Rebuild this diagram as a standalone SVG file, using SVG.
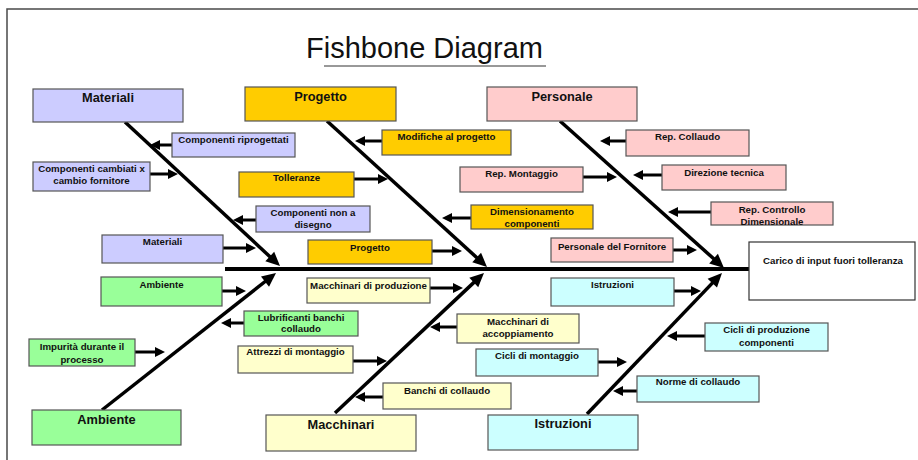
<svg xmlns="http://www.w3.org/2000/svg" width="918" height="460" viewBox="0 0 918 460">
  <style>
    .frame { fill: none; stroke: #4a4a4a; stroke-width: 1.5; }
    .box { stroke: #555; stroke-width: 1.2; }
    .mat { fill: #ccccff; }
    .pro { fill: #ffcc00; }
    .per { fill: #ffcccc; }
    .amb { fill: #99ff99; }
    .mac { fill: #ffffcc; }
    .ist { fill: #ccffff; }
    .eff { fill: #ffffff; stroke: #333; stroke-width: 1.2; }
    text { font-family: "Liberation Sans", Arial, sans-serif; fill: #111; text-anchor: middle; }
    .head { font-size: 12.8px; font-weight: bold; }
    .lbl { font-size: 9.7px; font-weight: bold; }
    .title { font-size: 29px; text-anchor: start; fill: #111; }
    .bone { stroke: #000; stroke-width: 3.5; fill: none; marker-end: url(#bigHead); }
    .rib { stroke: #000; stroke-width: 3; fill: none; marker-end: url(#smallHead); }
    .spine { stroke: #000; stroke-width: 4; }
  </style>
  <defs>
    <marker id="bigHead" markerUnits="userSpaceOnUse" markerWidth="16" markerHeight="14" refX="1" refY="6.5" orient="auto" overflow="visible">
      <path d="M0,0 L14,6.5 L0,13 z" fill="#000"/>
    </marker>
    <marker id="smallHead" markerUnits="userSpaceOnUse" markerWidth="12" markerHeight="11" refX="1" refY="5" orient="auto" overflow="visible">
      <path d="M0,0 L10,5 L0,10 z" fill="#000"/>
    </marker>
  </defs>

  <rect width="918" height="460" fill="#ffffff"/>
  <rect class="frame" x="7" y="9" width="930" height="470"/>

  <!-- title -->
  <g id="title">
    <text class="title" x="306" y="58">Fishbone Diagram</text>
    <line x1="324" y1="66" x2="546" y2="66" stroke="#333" stroke-width="1"/>
  </g>

  <!-- connectors: spine, main bones and ribs -->
  <g id="connectors">
    <line class="spine" x1="225" y1="269" x2="750" y2="269"/>

    <line class="bone" x1="125" y1="122" x2="270.5" y2="257.2"/>
    <line class="bone" x1="327" y1="121" x2="477.4" y2="258.2"/>
    <line class="bone" x1="560" y1="121" x2="714.3" y2="259.3"/>
    <line class="bone" x1="102" y1="410" x2="265.8" y2="281.0"/>
    <line class="bone" x1="335" y1="413" x2="474.5" y2="281.9"/>
    <line class="bone" x1="587" y1="414" x2="713.0" y2="282.4"/>

    <!-- Materiali ribs -->
    <line class="rib" x1="172" y1="145" x2="159" y2="145"/>
    <line class="rib" x1="150" y1="174" x2="169" y2="174"/>
    <line class="rib" x1="223" y1="248" x2="247" y2="248"/>
    <!-- Progetto ribs -->
    <line class="rib" x1="382" y1="141" x2="364" y2="141"/>
    <line class="rib" x1="354" y1="179" x2="379" y2="179"/>
    <line class="rib" x1="256" y1="220" x2="242" y2="220"/>
    <line class="rib" x1="471" y1="218" x2="451" y2="218"/>
    <line class="rib" x1="432" y1="251" x2="453" y2="251"/>
    <!-- Personale ribs -->
    <line class="rib" x1="583" y1="177" x2="608" y2="177"/>
    <line class="rib" x1="626" y1="141" x2="609" y2="141"/>
    <line class="rib" x1="662" y1="175" x2="642" y2="175"/>
    <line class="rib" x1="711" y1="212" x2="677" y2="212"/>
    <line class="rib" x1="673" y1="250" x2="688" y2="250"/>
    <!-- Ambiente ribs -->
    <line class="rib" x1="222" y1="291" x2="237" y2="291"/>
    <line class="rib" x1="244" y1="323" x2="230" y2="323"/>
    <line class="rib" x1="135" y1="352" x2="156" y2="352"/>
    <!-- Macchinari ribs -->
    <line class="rib" x1="353" y1="361" x2="378" y2="361"/>
    <line class="rib" x1="430" y1="288" x2="454" y2="288"/>
    <line class="rib" x1="457" y1="327" x2="439" y2="327"/>
    <line class="rib" x1="383" y1="397" x2="364" y2="397"/>
    <!-- Istruzioni ribs -->
    <line class="rib" x1="598" y1="362" x2="618" y2="362"/>
    <line class="rib" x1="674" y1="291" x2="692" y2="291"/>
    <line class="rib" x1="705" y1="336" x2="676" y2="336"/>
    <line class="rib" x1="637" y1="391" x2="622" y2="391"/>
  </g>

  <!-- category heads -->
  <g id="cat-materiali"><rect class="box mat" x="33" y="89" width="150" height="33"/><text class="head" x="108" y="102">Materiali</text></g>
  <g id="cat-progetto"><rect class="box pro" x="245" y="87" width="151" height="34"/><text class="head" x="320.5" y="100.5">Progetto</text></g>
  <g id="cat-personale"><rect class="box per" x="487" y="87" width="150" height="34"/><text class="head" x="562" y="100.5">Personale</text></g>
  <g id="cat-ambiente"><rect class="box amb" x="32" y="410" width="149" height="35"/><text class="head" x="106.5" y="423.5">Ambiente</text></g>
  <g id="cat-macchinari"><rect class="box mac" x="266" y="415" width="150" height="36"/><text class="head" x="341" y="428.5">Macchinari</text></g>
  <g id="cat-istruzioni"><rect class="box ist" x="488" y="415" width="150" height="35"/><text class="head" x="563" y="428">Istruzioni</text></g>

  <!-- effect -->
  <g id="effect"><rect class="eff" x="749" y="242" width="166" height="58"/><text class="lbl" x="833" y="263.5">Carico di input fuori tolleranza</text></g>

  <!-- Materiali causes -->
  <g id="c-componenti-riprogettati"><rect class="box mat" x="172" y="133" width="123" height="24"/><text class="lbl" x="233.5" y="143">Componenti riprogettati</text></g>
  <g id="c-componenti-cambiati"><rect class="box mat" x="33" y="162" width="117" height="29"/><text class="lbl" x="91.5" y="172">Componenti cambiati x</text><text class="lbl" x="91.5" y="184">cambio fornitore</text></g>
  <g id="c-materiali"><rect class="box mat" x="102" y="235" width="121" height="28"/><text class="lbl" x="162.5" y="245">Materiali</text></g>

  <!-- Progetto causes -->
  <g id="c-modifiche"><rect class="box pro" x="382" y="130" width="129" height="25"/><text class="lbl" x="446.5" y="139.5">Modifiche al progetto</text></g>
  <g id="c-tolleranze"><rect class="box pro" x="239" y="172" width="115" height="25"/><text class="lbl" x="296.5" y="181">Tolleranze</text></g>
  <g id="c-non-a-disegno"><rect class="box mat" x="256" y="206" width="114" height="26"/><text class="lbl" x="313" y="216">Componenti non a</text><text class="lbl" x="313" y="228">disegno</text></g>
  <g id="c-dimensionamento"><rect class="box pro" x="471" y="205" width="122" height="24"/><text class="lbl" x="532" y="215">Dimensionamento</text><text class="lbl" x="532" y="226.5">componenti</text></g>
  <g id="c-progetto"><rect class="box pro" x="308" y="240" width="124" height="24"/><text class="lbl" x="370" y="250.5">Progetto</text></g>

  <!-- Personale causes -->
  <g id="c-rep-collaudo"><rect class="box per" x="626" y="130" width="123" height="26"/><text class="lbl" x="687.5" y="140">Rep. Collaudo</text></g>
  <g id="c-rep-montaggio"><rect class="box per" x="460" y="167" width="123" height="25"/><text class="lbl" x="521.5" y="176.5">Rep. Montaggio</text></g>
  <g id="c-direzione"><rect class="box per" x="662" y="165" width="124" height="25"/><text class="lbl" x="724" y="176">Direzione tecnica</text></g>
  <g id="c-rep-controllo"><rect class="box per" x="711" y="202" width="122" height="23"/><text class="lbl" x="772" y="213">Rep. Controllo</text><text class="lbl" x="772" y="225">Dimensionale</text></g>
  <g id="c-personale-fornitore"><rect class="box per" x="551" y="238" width="122" height="24"/><text class="lbl" x="612" y="249.5">Personale del Fornitore</text></g>

  <!-- Ambiente causes -->
  <g id="c-ambiente"><rect class="box amb" x="101" y="277" width="121" height="29"/><text class="lbl" x="161.5" y="288">Ambiente</text></g>
  <g id="c-lubrificanti"><rect class="box amb" x="244" y="311" width="114" height="25"/><text class="lbl" x="301" y="321">Lubrificanti banchi</text><text class="lbl" x="301" y="332">collaudo</text></g>
  <g id="c-impurita"><rect class="box amb" x="29" y="339" width="106" height="27"/><text class="lbl" x="82" y="350">Impurità durante il</text><text class="lbl" x="82" y="363">processo</text></g>

  <!-- Macchinari causes -->
  <g id="c-macchinari-produzione"><rect class="box mac" x="307" y="278" width="123" height="25"/><text class="lbl" x="368.5" y="288.5">Macchinari di produzione</text></g>
  <g id="c-macchinari-accoppiamento"><rect class="box mac" x="457" y="314" width="122" height="29"/><text class="lbl" x="518" y="324.5">Macchinari di</text><text class="lbl" x="518" y="337">accoppiamento</text></g>
  <g id="c-attrezzi"><rect class="box mac" x="238" y="346" width="115" height="27"/><text class="lbl" x="295.5" y="355">Attrezzi di montaggio</text></g>
  <g id="c-banchi"><rect class="box mac" x="383" y="383" width="128" height="26"/><text class="lbl" x="447" y="393.5">Banchi di collaudo</text></g>

  <!-- Istruzioni causes -->
  <g id="c-istruzioni"><rect class="box ist" x="551" y="278" width="123" height="28"/><text class="lbl" x="612.5" y="288">Istruzioni</text></g>
  <g id="c-cicli-produzione"><rect class="box ist" x="705" y="323" width="123" height="28"/><text class="lbl" x="766.5" y="333">Cicli di produzione</text><text class="lbl" x="766.5" y="346">componenti</text></g>
  <g id="c-cicli-montaggio"><rect class="box ist" x="476" y="349" width="122" height="27"/><text class="lbl" x="537" y="358.5">Cicli di montaggio</text></g>
  <g id="c-norme"><rect class="box ist" x="637" y="376" width="122" height="26"/><text class="lbl" x="698" y="385">Norme di collaudo</text></g>
</svg>
